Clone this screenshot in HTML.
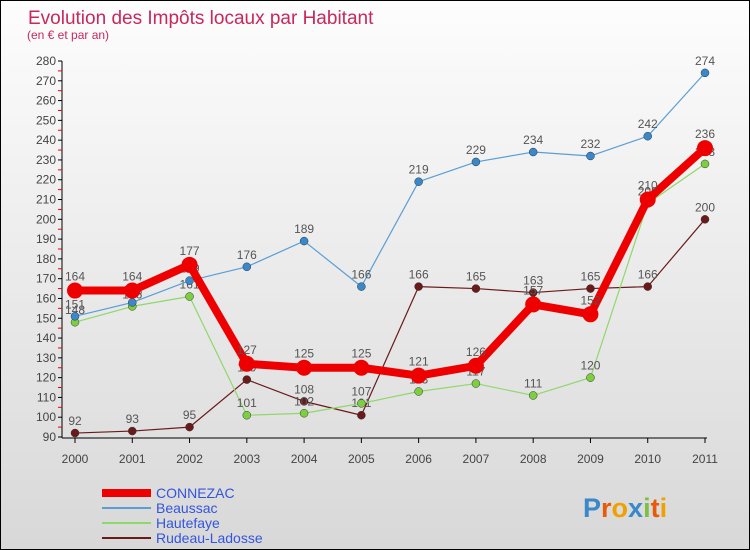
<!DOCTYPE html>
<html><head><meta charset="utf-8"><style>
body{margin:0;width:750px;height:550px;overflow:hidden;font-family:"Liberation Sans",sans-serif}
#wrap{position:relative;width:748px;height:548px;border:1px solid #000;background:linear-gradient(#fdfdfd,#d8d8d8)}
</style></head><body>
<div id="wrap">
<svg id="c" width="748" height="548" style="position:absolute;left:0;top:0"></svg>
</div>
<script>
const years=["2000","2001","2002","2003","2004","2005","2006","2007","2008","2009","2010","2011"];
const connezac=[164,164,177,127,125,125,121,126,157,152,210,236];
const beaussac=[151,158,169,176,189,166,219,229,234,232,242,274];
const hautefaye=[148,156,161,101,102,107,113,117,111,120,208,228];
const rudeau=[92,93,95,119,108,101,166,165,163,165,166,200];
const yTicks=[90,100,110,120,130,140,150,160,170,180,190,200,210,220,230,240,250,260,270,280];
const NS="http://www.w3.org/2000/svg";
const svg=document.getElementById('c');
function x(i){return 74+i*(630/(years.length-1));}
function y(v){return 436-(v-90)*(376/190);}
function el(t,a,p){const e=document.createElementNS(NS,t);for(const k in a)e.setAttribute(k,a[k]);(p||svg).appendChild(e);return e;}
function tx(s,a){const e=el('text',a);e.textContent=s;return e;}
let t=tx('Evolution des Impôts locaux par Habitant',{x:27,y:23,'font-size':19,fill:'#c8285a'});

t=tx('(en € et par an)',{x:26,y:38,'font-size':12,fill:'#c8285a'});

// axes
let a=el('line',{x1:61,y1:60,x2:61,y2:437,stroke:'#000'});

a=el('line',{x1:61,y1:437,x2:706,y2:437,stroke:'#000'});

yTicks.forEach((v,i)=>{
 el('line',{x1:57,y1:y(v),x2:61,y2:y(v),stroke:'#000'});
 if(i<yTicks.length-1)el('line',{x1:57,y1:(y(v)+y(yTicks[i+1]))/2,x2:61,y2:(y(v)+y(yTicks[i+1]))/2,stroke:'#e00'});
 const l=tx(String(v),{x:55,y:y(v)+4,'font-size':12,fill:'#444','text-anchor':'end'});
 
});
years.forEach((yr,i)=>{
 el('line',{x1:x(i),y1:437,x2:x(i),y2:442,stroke:'#000'});
 const l=tx(yr,{x:x(i),y:462,'font-size':12,fill:'#444','text-anchor':'middle'});
 
});
function series(name,data,color,w,r,dot){
 const g=el('g',{});
 
 el('polyline',{points:data.map((v,i)=>x(i)+','+y(v)).join(' '),fill:'none',stroke:color,'stroke-width':w,'stroke-linejoin':'round'},g);
 data.forEach((v,i)=>{
  const c=el('circle',{cx:x(i),cy:y(v),r:r,fill:dot,stroke:'#333','stroke-width':r>5?0:0.5},g);
  
  const l=tx(String(v),{x:x(i),y:y(v)-8-(r>5?2:0),'font-size':12,fill:'#555','text-anchor':'middle'});
  
 });
}
series('rudeau-ladosse',rudeau,'#6b1a1a',1.2,4,'#6b1a1a');
series('hautefaye',hautefaye,'#8fd86a',1.2,4,'#7cd040');
series('beaussac',beaussac,'#5a9ed6',1.2,4,'#3a88cc');
series('connezac',connezac,'#ee0000',8,8,'#ee0000');
// legend
const leg=[['CONNEZAC','#ee0000',8],['Beaussac','#5a9ed6',2],['Hautefaye','#8fd86a',2],['Rudeau-Ladosse','#6b1a1a',2]];
leg.forEach((e,i)=>{
 const yy=492+i*15;
 const g=el('g',{});
 el('line',{x1:101,y1:yy,x2:150,y2:yy,stroke:e[1],'stroke-width':e[2]},g);
 const l=el('text',{x:155,y:yy+5,'font-size':14,fill:'#3355dd'},g);l.textContent=e[0];
});
// logo
const lg=tx('',{x:582,y:516,'font-size':27,'font-weight':'bold'});

[['P','#3a88cc'],['r','#e85a0a'],['o','#f0a000'],['x','#3a88cc'],['i','#7cc040'],['t','#e85a0a'],['i','#f0a000']].forEach(p=>{const s=el('tspan',{fill:p[1]},lg);s.textContent=p[0];});
</script>
</body></html>
